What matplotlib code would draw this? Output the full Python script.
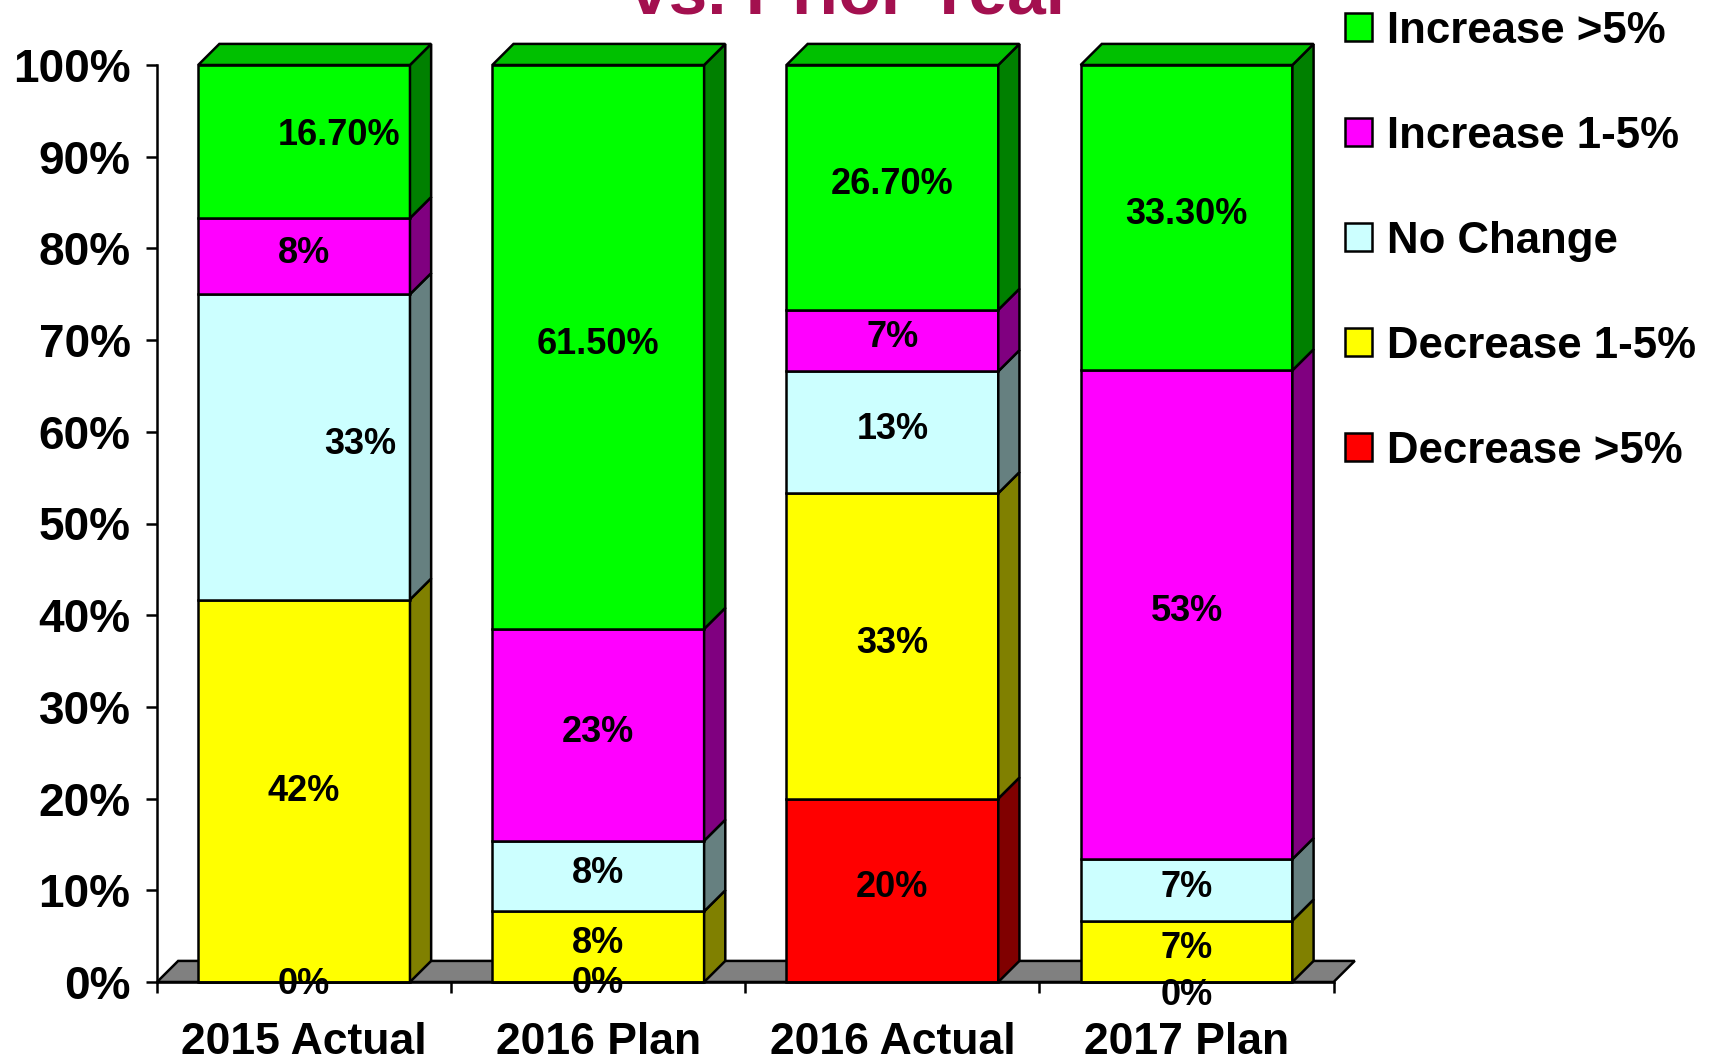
import matplotlib
matplotlib.use('Agg')
import matplotlib.pyplot as plt
from matplotlib.patches import Polygon, Rectangle

plt.rcParams['font.family'] = ['Liberation Sans', 'DejaVu Sans']
plt.rcParams['font.weight'] = 'bold'

# data (percent of respondents)
categories = ['2015 Actual', '2016 Plan', '2016 Actual', '2017 Plan']
series_names = ['Decrease >5%', 'Decrease 1-5%', 'No Change', 'Increase 1-5%', 'Increase >5%']

decrease_big = [0.0, 0.0, 20.0, 0.0]
decrease_small = [41.7, 7.7, 33.3, 6.7]
no_change = [33.3, 7.7, 13.3, 6.7]
increase_small = [8.3, 23.1, 6.7, 53.3]
increase_big = [16.7, 61.5, 26.7, 33.3]

# data labels exactly as printed
lbl_decrease_big = ['0%', '0%', '20%', '0%']
lbl_decrease_small = ['42%', '8%', '33%', '7%']
lbl_no_change = ['33%', '8%', '13%', '7%']
lbl_increase_small = ['8%', '23%', '7%', '53%']
lbl_increase_big = ['16.70%', '61.50%', '26.70%', '33.30%']

series = [decrease_big, decrease_small, no_change, increase_small, increase_big]
labels = [lbl_decrease_big, lbl_decrease_small, lbl_no_change, lbl_increase_small, lbl_increase_big]

front = ['#FF0000', '#FFFF00', '#CCFFFF', '#FF00FF', '#00FF00']
side = ['#800000', '#808000', '#668080', '#800080', '#008000']
top_col = '#00C000'

W, H = 1721, 1061
fig = plt.figure(figsize=(W / 100, H / 100), dpi=100)
fig.patch.set_facecolor('white')
ax = fig.add_axes([157 / W, 79 / H, 1176.6 / W, 917 / H])

lw = 1.8
bw = 0.72
dx, dy = 0.072, 2.3   # fake 3-D depth
x = list(range(len(categories)))

ax.set_xlim(-0.5, 3.5)
ax.set_ylim(0, 100)

# floor
floor = Polygon([(-0.5, 0), (-0.5 + dx, dy), (3.5 + dx, dy), (3.5, 0)], closed=True,
                facecolor='#808080', edgecolor='black', lw=lw, clip_on=False, zorder=1)
ax.add_patch(floor)

# label tweaks (x offset in category units, y offset in %)
lbl_dx = {(0, 2): 0.19, (0, 4): 0.12}
lbl_dy = {(0, 0): -0.6, (1, 0): -0.5, (3, 0): -1.8, (0, 4): 0.4, (0, 1): -0.4}

bottoms = [0.0] * len(categories)
for s, vals in enumerate(series):
    ax.bar(x, vals, bottom=bottoms, width=bw, color=front[s], edgecolor='black',
           linewidth=lw, zorder=2, clip_on=False)
    for i, v in enumerate(vals):
        xr = x[i] + bw / 2
        b0, b1 = bottoms[i], bottoms[i] + v
        if v > 0:
            ax.add_patch(Polygon([(xr, b0), (xr + dx, b0 + dy), (xr + dx, b1 + dy), (xr, b1)],
                                 closed=True, facecolor=side[s], edgecolor='black', lw=lw,
                                 clip_on=False, zorder=2))
        ax.text(x[i] + lbl_dx.get((i, s), 0), (b0 + b1) / 2 + 0.3 + lbl_dy.get((i, s), 0),
                labels[s][i], ha='center', va='center', fontsize=26, fontweight='bold',
                zorder=5, clip_on=False)
    bottoms = [b + v for b, v in zip(bottoms, vals)]

# top faces
for i in x:
    xl, xr = x[i] - bw / 2, x[i] + bw / 2
    t = bottoms[i]
    ax.add_patch(Polygon([(xl, t), (xl + dx, t + dy), (xr + dx, t + dy), (xr, t)],
                         closed=True, facecolor=top_col, edgecolor='black', lw=lw,
                         clip_on=False, zorder=2))

# axes styling
for sp in ['top', 'right']:
    ax.spines[sp].set_visible(False)
ax.spines['left'].set_linewidth(lw)
ax.spines['bottom'].set_linewidth(lw)
ax.set_yticks(range(0, 101, 10))
ax.set_yticklabels([f'{v}%' for v in range(0, 101, 10)], fontsize=33, fontweight='bold')
ax.tick_params(axis='y', direction='out', length=8, width=lw, pad=11)
ax.set_xticks([-0.5, 0.5, 1.5, 2.5, 3.5])
ax.set_xticklabels([])
ax.tick_params(axis='x', which='major', direction='out', length=8, width=lw)
ax.set_xticks(x, minor=True)
ax.set_xticklabels(categories, minor=True, fontsize=32, fontweight='bold')
ax.tick_params(axis='x', which='minor', length=0, pad=29)

# title (cut off at the top of the slide, as in the source)
fig.text(851 / W, 1 - 14 / H, 'vs. Prior Year', ha='center', va='baseline',
         fontsize=50, fontweight='bold', color='#A3104F')

# legend
legend_y = [27, 132, 237, 342, 447]
for s_idx, yc in zip([4, 3, 2, 1, 0], legend_y):
    fig.add_artist(Rectangle((1345 / W, 1 - (yc + 14) / H), 27 / W, 28 / H,
                             transform=fig.transFigure, facecolor=front[s_idx],
                             edgecolor='black', lw=lw))
    fig.text(1387 / W, 1 - (yc + 16) / H, series_names[s_idx], ha='left', va='baseline',
             fontsize=31.5, fontweight='bold')

fig.savefig('out.png', dpi=100)
